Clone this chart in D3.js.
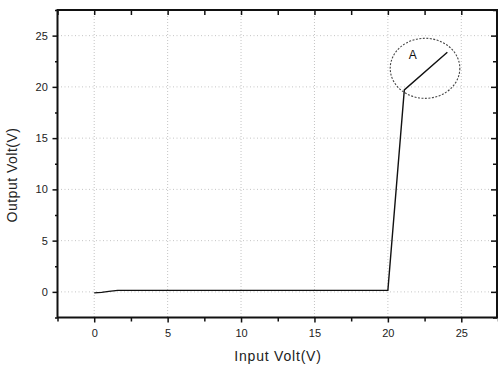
<!DOCTYPE html>
<html><head><meta charset="utf-8">
<script src="https://cdn.jsdelivr.net/npm/d3@7"></script>
<style>body{margin:0;background:#fff;} svg{display:block;font-family:"Liberation Sans",Arial,sans-serif;}</style>
</head><body>
<script>
const inputVolt  = [0, 0.5, 1, 1.6, 5, 10, 15, 20, 21.12, 24.05];
const outputVolt = [-0.1, -0.05, 0.05, 0.15, 0.15, 0.15, 0.15, 0.15, 19.7, 23.37];
const xTicks = [0, 5, 10, 15, 20, 25];
const yTicks = [0, 5, 10, 15, 20, 25];
const minorTicks = [-2.5, 0, 2.5, 5, 7.5, 10, 12.5, 15, 17.5, 20, 22.5, 25, 27.5];
const annotation = {label: "A", cx: 22.53, cy: 21.81, rx: 2.37, ry: 2.93, lx: 21.69, ly: 23.0};

const W = 498, H = 369;
const m = {left: 57.5, right: 0, top: 10, bottom: 51.5};
const svg = d3.select("body").append("svg").attr("width", W).attr("height", H);
const x = d3.scaleLinear().domain([-2.5, 27.5]).range([m.left, W - m.right]);
const y = d3.scaleLinear().domain([-2.5, 27.5]).range([H - m.bottom, m.top]);

// grid
const g = svg.append("g");
g.selectAll(".gx").data(xTicks).join("line")
  .attr("x1", d => x(d)).attr("x2", d => x(d)).attr("y1", y(27.5)).attr("y2", y(-2.5))
  .attr("stroke", "#b5b5b5").attr("stroke-width", 0.8).attr("stroke-dasharray", "1,2");
g.selectAll(".gy").data(yTicks).join("line")
  .attr("y1", d => y(d)).attr("y2", d => y(d)).attr("x1", x(-2.5)).attr("x2", x(27.5))
  .attr("stroke", "#b5b5b5").attr("stroke-width", 0.8).attr("stroke-dasharray", "1,2.5");

// axes
const fmt = d3.format("d");
const axB = svg.append("g").attr("transform", `translate(0,${y(-2.5)})`)
  .call(d3.axisBottom(x).tickValues(minorTicks).tickSize(5).tickFormat(d => xTicks.includes(d) ? fmt(d) : ""));
const axL = svg.append("g").attr("transform", `translate(${x(-2.5)},0)`)
  .call(d3.axisLeft(y).tickValues(minorTicks).tickSize(5).tickFormat(d => yTicks.includes(d) ? fmt(d) : ""));
const axT = svg.append("g").attr("transform", `translate(0,${y(27.5)})`)
  .call(d3.axisBottom(x).tickValues(minorTicks).tickSize(5).tickFormat(""));
const axR = svg.append("g").attr("transform", `translate(${x(27.5) - 1},0)`)
  .call(d3.axisLeft(y).tickValues(minorTicks).tickSize(5).tickFormat(""));
[axB, axL, axT, axR].forEach(a => {
  a.select(".domain").remove();
  a.selectAll(".tick line").attr("stroke", "#111").attr("stroke-width", 1.5);
  a.selectAll("text").attr("font-size", 11).attr("fill", "#222").attr("font-family", "Liberation Sans, Arial, sans-serif");
});
axB.selectAll(".tick line").attr("y2", d => xTicks.includes(d) ? 5 : 4);
axL.selectAll(".tick line").attr("x2", d => yTicks.includes(d) ? -5 : -2.5);
axT.selectAll(".tick line").attr("y2", 5);
axR.selectAll(".tick line").attr("x2", d => yTicks.includes(d) ? -6 : -4);
axB.selectAll("text").attr("dy", "1.05em");
axL.selectAll("text").attr("dx", "-0.15em");
// frame
svg.append("rect").attr("x", x(-2.5)).attr("y", y(27.5))
  .attr("width", x(27.5) - x(-2.5) - 1).attr("height", y(-2.5) - y(27.5))
  .attr("fill", "none").attr("stroke", "#111").attr("stroke-width", 2);

// data line
const pts = inputVolt.map((v, i) => [v, outputVolt[i]]);
svg.append("path").datum(pts)
  .attr("d", d3.line().x(d => x(d[0])).y(d => y(d[1])))
  .attr("fill", "none").attr("stroke", "#111").attr("stroke-width", 1.4);

// annotation ellipse
svg.append("ellipse")
  .attr("cx", x(annotation.cx)).attr("cy", y(annotation.cy))
  .attr("rx", x(annotation.cx + annotation.rx) - x(annotation.cx))
  .attr("ry", y(annotation.cy) - y(annotation.cy + annotation.ry))
  .attr("fill", "none").attr("stroke", "#444").attr("stroke-width", 1.1).attr("stroke-dasharray", "2,1.5");
svg.append("text").attr("x", x(annotation.lx)).attr("y", y(annotation.ly))
  .attr("text-anchor", "middle").attr("dominant-baseline", "middle")
  .attr("font-size", 12).attr("fill", "#111").text(annotation.label);

// axis titles
svg.append("text").attr("x", 278).attr("y", 361)
  .attr("text-anchor", "middle").attr("font-size", 14).attr("letter-spacing", 0.8)
  .attr("fill", "#222").text("Input Volt(V)");
svg.append("text").attr("transform", `translate(17,175) rotate(-90)`)
  .attr("text-anchor", "middle").attr("font-size", 14).attr("letter-spacing", 0.5)
  .attr("fill", "#222").text("Output Volt(V)");
</script>
</body></html>
